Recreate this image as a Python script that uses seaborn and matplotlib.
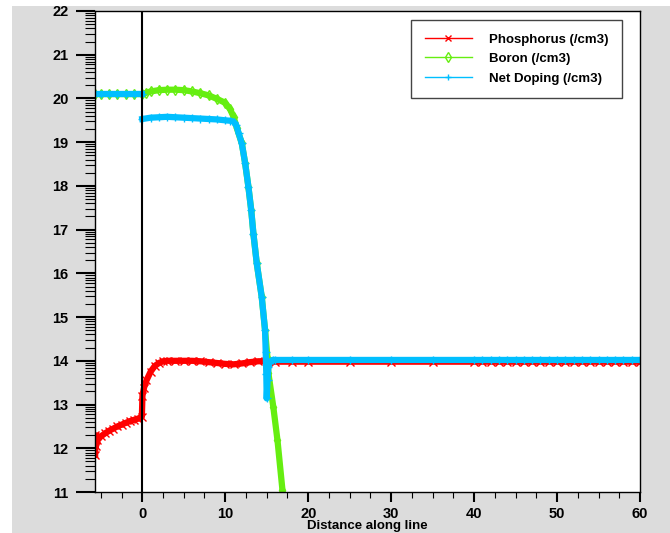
import matplotlib
matplotlib.use("Agg")
import matplotlib.pyplot as plt
from matplotlib.lines import Line2D
from matplotlib.patches import Rectangle
from matplotlib.ticker import MultipleLocator, FixedLocator
import seaborn as sns
import numpy as np
import pandas as pd

nan = np.nan

series_names = ["Phosphorus (/cm3)", "Boron (/cm3)", "Net Doping (/cm3)"]
series_colors = ["#ff0000", "#66ee11", "#00bfff"]
series_markers = ["x", "d", "+"]

phos_x = [-5.68, -5.64, -5.58, -5.4, -5.0, -4.5, -4.0, -3.5, -3.0, -2.5, -2.0, -1.5, -1.0, -0.5,
          -0.05, 0.02, 0.2, 0.5, 1.0, 1.5, 2.0, 2.5, 3.0, 4.0, 5.0, 6.0, 7.0, 8.0, 9.0, 10.0,
          11.0, 12.0, 13.0, 14.0, 15.0, 16.0, 18.0, 20.0, 25.0, 30.0, 35.0, 40.0,
          41, 42, 43, 44, 45, 46, 47, 48, 49, 50, 51, 52, 53, 54, 55, 56, 57, 58, 59, 60]
phos_y = [11.85, 12.3, 12.05, 12.18, 12.27, 12.34, 12.4, 12.45, 12.5, 12.54, 12.58, 12.62, 12.65, 12.68,
          12.72, 13.2, 13.38, 13.55, 13.75, 13.88, 13.95, 13.99, 14.0, 14.0, 14.0, 14.0, 13.99, 13.97, 13.95, 13.93,
          13.92, 13.94, 13.97, 13.99, 13.99, 13.98, 13.98, 13.98, 13.98, 13.98, 13.98, 13.98,
          13.98, 13.98, 13.98, 13.98, 13.98, 13.98, 13.98, 13.98, 13.98, 13.98, 13.98, 13.98, 13.98, 13.98,
          13.98, 13.98, 13.98, 13.98, 13.98, 13.98]

boron_x = [-5.68, -5.0, -4.0, -3.0, -2.0, -1.0, 0.0, 0.5, 1.0, 2.0, 3.0, 4.0, 5.0, 6.0, 7.0, 8.0,
           9.0, 10.0, 10.6, 11.0, 11.4, 12.0, 12.4, 12.8, 13.13, 13.4, 13.8, 14.4, 14.8, 15.1,
           15.2, 15.8, 16.3, 16.9, 17.2]
boron_y = [20.1, 20.1, 20.1, 20.1, 20.1, 20.1, 20.1, 20.13, 20.16, 20.19, 20.2, 20.2, 20.19, 20.16, 20.12, 20.07,
           19.99, 19.9, 19.75, 19.58, 19.32, 18.97, 18.52, 17.97, 17.45, 16.9, 16.23, 15.46, 14.7, 14.05,
           13.72, 12.94, 12.18, 11.04, 10.6]

# nan marks a break in the curve (jump hidden behind the x=0 line)
net_x = [-5.68, -5.0, -4.0, -3.0, -2.0, -1.0, 0.0, nan,
         0.0, 1.0, 2.0, 3.0, 4.0, 5.0, 6.0, 7.0, 8.0, 9.0, 10.0, 10.6, 11.0, 11.3, 11.6,
         12.0, 12.4, 12.8, 13.13, 13.4, 13.8, 14.4, 14.8, 14.88, 14.95, 15.0, 15.1, 15.2, 15.4, 15.7,
         16.0, 18.0, 20.0, 25.0, 30.0, 35.0, 40.0,
         41, 42, 43, 44, 45, 46, 47, 48, 49, 50, 51, 52, 53, 54, 55, 56, 57, 58, 59, 60]
net_y = [20.1, 20.1, 20.1, 20.1, 20.1, 20.1, 20.1, nan,
         19.53, 19.56, 19.57, 19.58, 19.57, 19.56, 19.55, 19.54, 19.53, 19.52, 19.5, 19.49, 19.47, 19.4, 19.22,
         18.97, 18.52, 17.97, 17.45, 16.9, 16.23, 15.46, 14.7, 14.2, 13.7, 13.14, 13.55, 13.85, 13.98, 14.02,
         14.02, 14.02, 14.02, 14.02, 14.02, 14.02, 14.02,
         14.02, 14.02, 14.02, 14.02, 14.02, 14.02, 14.02, 14.02, 14.02, 14.02, 14.02, 14.02, 14.02, 14.02,
         14.02, 14.02, 14.02, 14.02, 14.02, 14.02]

plt.rcParams["font.family"] = ["Liberation Sans", "DejaVu Sans"]
plt.rcParams["font.weight"] = "bold"

fig = plt.figure(figsize=(6.7, 5.33), dpi=100, facecolor="white")
fig.add_artist(Rectangle((12 / 670, 0), 1 - 12 / 670, 1 - 6 / 533, transform=fig.transFigure,
                         facecolor="#dcdcdc", edgecolor="none", zorder=-1))
ax = fig.add_axes([95 / 670, 41 / 533, 545 / 670, 481 / 533])
ax.set_facecolor("white")


def draw_series(xs, ys, color, marker):
    df = pd.DataFrame({"x": xs, "y": ys})
    df["piece"] = df["y"].isna().cumsum()
    mfc = "none" if marker == "d" else color
    for _, part in df.dropna().groupby("piece"):
        sns.lineplot(data=part, x="x", y="y", sort=False, estimator=None, color=color,
                     lw=4.5, marker=marker, ms=5.5, mew=1, mec=color, mfc=mfc,
                     legend=False, ax=ax)


draw_series(phos_x, phos_y, series_colors[0], series_markers[0])
draw_series(boron_x, boron_y, series_colors[1], series_markers[1])
draw_series(net_x, net_y, series_colors[2], series_markers[2])

ax.axvline(0, color="black", lw=1.5, zorder=5)

ax.set_xlim(-5.7, 60)
ax.set_ylim(11, 22)
ax.xaxis.set_major_locator(MultipleLocator(10))
ax.xaxis.set_minor_locator(MultipleLocator(2.5))
ax.yaxis.set_major_locator(MultipleLocator(1))
ax.yaxis.set_minor_locator(FixedLocator([n + np.log10(k) for n in range(11, 22) for k in range(2, 10)]))

ax.tick_params(axis="y", which="major", length=14, width=1.5, pad=5, labelsize=10.5)
ax.tick_params(axis="y", which="minor", length=7, width=0.8)
ax.tick_params(axis="x", which="major", length=7, width=1.5, pad=4, labelsize=10.5)
ax.tick_params(axis="x", which="minor", length=4.5, width=0.8)
for side in ["left", "bottom", "top", "right"]:
    ax.spines[side].set_color("black")
    ax.spines[side].set_linewidth(1)

ax.set_ylabel("")
ax.set_xlabel("Distance along line", fontsize=9.5, fontweight="bold")
ax.xaxis.label.set_va("bottom")
ax.xaxis.set_label_coords(0.5, -0.083)

handles = [Line2D([], [], color=c, lw=1, marker=m, ms=5, mec=c,
                  mfc="none" if m == "d" else c)
           for c, m in zip(series_colors, series_markers)]
leg = ax.legend(handles, series_names, loc="upper right", bbox_to_anchor=(0.967, 0.981),
                borderaxespad=0, fancybox=False, framealpha=1, edgecolor="#444444",
                prop={"size": 9.5, "weight": "bold"}, handlelength=3.6, handletextpad=1.3,
                labelspacing=0.55, borderpad=1.0)
leg.get_frame().set_linewidth(1)

fig.savefig("out.png", dpi=100)
